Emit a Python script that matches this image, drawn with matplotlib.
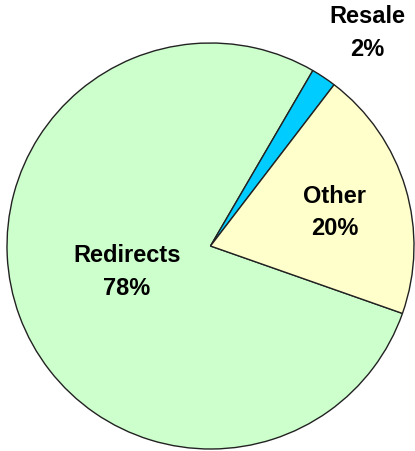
import matplotlib.pyplot as plt

labels = ["Redirects", "Resale", "Other"]
shares = [78, 2, 20]
colors = ["#CCFFCC", "#00CCFF", "#FFFFCC"]

# where each label sits (axes data units, pie radius = 1)
label_pos = {"Redirects": (-0.41, -0.125), "Resale": (0.77, 1.055), "Other": (0.61, 0.17)}

fig = plt.figure(figsize=(4.15, 4.52), dpi=100)
ax = fig.add_axes([7 / 415, 2 / 452, 407 / 415, 406 / 452])

ax.pie(shares, colors=colors, startangle=340.6, counterclock=False,
       wedgeprops=dict(edgecolor="#222222", linewidth=1.0))
ax.set_xlim(-1, 1)
ax.set_ylim(-1, 1)
ax.set_aspect("auto")
ax.axis("off")

for name, val in zip(labels, shares):
    x, y = label_pos[name]
    ax.text(x, y, f"{name}\n{val}%", ha="center", va="center",
            fontsize=17, fontweight="bold", family="Liberation Sans",
            linespacing=1.55, clip_on=False)

fig.savefig("out.png", dpi=100)
